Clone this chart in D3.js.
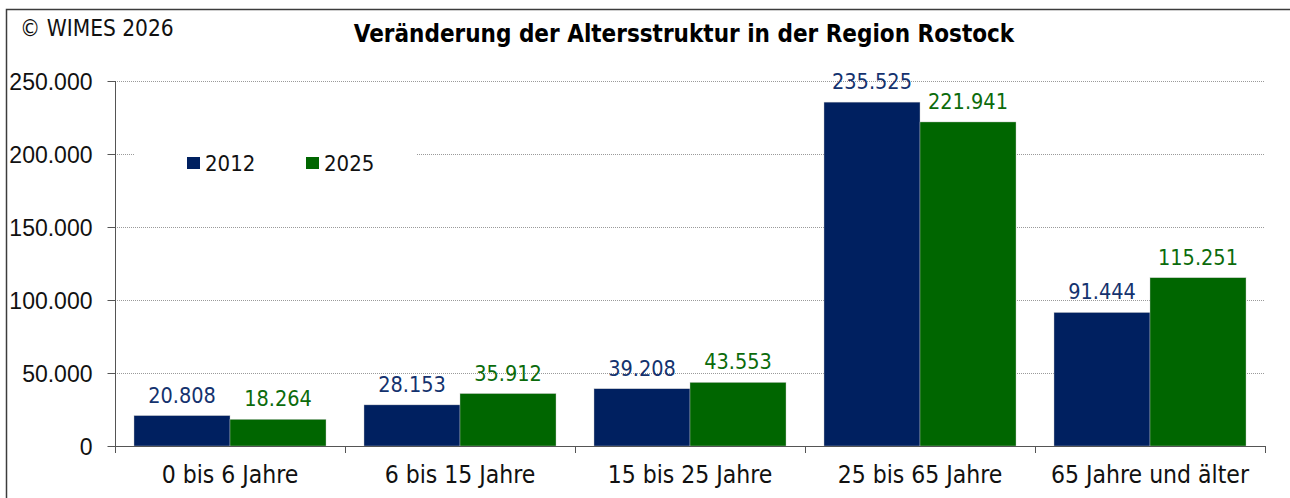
<!DOCTYPE html>
<html>
<head>
<meta charset="utf-8">
<script src="https://cdn.jsdelivr.net/npm/d3@7"></script>
<style>
  body { margin: 0; background: #fff; }
  svg { display: block; font-family: "DejaVu Sans Condensed", "DejaVu Sans", sans-serif; font-stretch: condensed; }
</style>
</head>
<body>
<div id="chart-area"></div>
<script>
const categories = ["0 bis 6 Jahre", "6 bis 15 Jahre", "15 bis 25 Jahre", "25 bis 65 Jahre", "65 Jahre und älter"]
const years = ["2012", "2025"]
const values2012 = [20808, 28153, 39208, 235525, 91444]
const values2025 = [18264, 35912, 43553, 221941, 115251]
const yTicks = [0, 50000, 100000, 150000, 200000, 250000]

class GroupedBarChart {
  constructor(_parentElement) {
    this.parentElement = _parentElement
    this.initVis()
  }

  initVis() {
    const vis = this

    vis.MARGIN = { LEFT: 115, RIGHT: 25, TOP: 81, BOTTOM: 52 }
    vis.WIDTH = 1290 - vis.MARGIN.LEFT - vis.MARGIN.RIGHT
    vis.HEIGHT = 498 - vis.MARGIN.TOP - vis.MARGIN.BOTTOM

    vis.svg = d3.select(vis.parentElement).append("svg")
      .attr("width", 1290)
      .attr("height", 498)

    // outer frame
    vis.svg.append("rect")
      .attr("x", 6.5)
      .attr("y", 9.5)
      .attr("width", 1400)
      .attr("height", 600)
      .attr("fill", "none")
      .attr("stroke", "#3c3c3c")
      .attr("stroke-width", 1.5)

    vis.svg.append("text")
      .attr("x", 20)
      .attr("y", 36)
      .attr("font-size", "22.5px")
      .attr("fill", "#111")
      .text("© WIMES 2026")

    vis.svg.append("text")
      .attr("x", 684)
      .attr("y", 42)
      .attr("text-anchor", "middle")
      .attr("font-size", "24px")
      .attr("font-weight", "bold")
      .attr("fill", "#000")
      .text("Veränderung der Altersstruktur in der Region Rostock")

    vis.g = vis.svg.append("g")
      .attr("transform", `translate(${vis.MARGIN.LEFT}, ${vis.MARGIN.TOP})`)

    vis.data = categories.map((c, i) => ({ category: c, values: [values2012[i], values2025[i]] }))

    vis.color = d3.scaleOrdinal().domain(years).range(["#002060", "#006600"])
    vis.labelColor = d3.scaleOrdinal().domain(years).range(["#14326e", "#0b6b0b"])

    vis.x0 = d3.scaleBand().domain(categories).range([0, vis.WIDTH])
    vis.x1 = d3.scaleBand().domain(years).range([19, vis.x0.bandwidth() - 19])
    vis.y = d3.scaleLinear().domain([0, 250000]).range([vis.HEIGHT, 0])

    const locale = d3.formatLocale({ decimal: ",", thousands: ".", grouping: [3], currency: ["", " €"] })
    vis.fmt = locale.format(",d")

    // gridlines
    vis.g.append("g")
      .selectAll("line")
      .data(yTicks.filter(d => d > 0))
      .enter().append("line")
        .attr("x1", 0)
        .attr("x2", vis.WIDTH)
        .attr("y1", d => Math.round(vis.y(d)) + 0.5)
        .attr("y2", d => Math.round(vis.y(d)) + 0.5)
        .attr("stroke", "#9a9a9a")
        .attr("stroke-dasharray", "1,1")

    vis.addLegend()

    // y axis
    vis.yAxisCall = d3.axisLeft(vis.y)
      .tickValues(yTicks)
      .tickSize(8)
      .tickPadding(15)
      .tickFormat(vis.fmt)

    vis.yAxis = vis.g.append("g")
      .attr("class", "y axis")
      .attr("transform", "translate(0.5, 0)")
      .call(vis.yAxisCall)
    vis.yAxis.select(".domain").attr("stroke", "#555").attr("d", `M0,0V${vis.HEIGHT + 7}`)
    vis.yAxis.selectAll(".tick line").attr("stroke", "#555")
    vis.yAxis.selectAll("text")
      .attr("font-size", "23px")
      .attr("font-family", null)
      .attr("fill", "#111")
      .attr("dy", "0.36em")

    vis.updateVis()
  }

  updateVis() {
    const vis = this

    const groups = vis.g.selectAll(".group")
      .data(vis.data)
      .enter().append("g")
        .attr("class", "group")
        .attr("transform", d => `translate(${vis.x0(d.category)}, 0)`)

    groups.selectAll("rect")
      .data(d => d.values.map((v, i) => ({ year: years[i], value: v })))
      .enter().append("rect")
        .attr("x", d => vis.x1(d.year))
        .attr("y", d => vis.y(d.value))
        .attr("width", vis.x1.bandwidth())
        .attr("height", d => vis.HEIGHT - vis.y(d.value))
        .attr("fill", d => vis.color(d.year))
        .attr("stroke", "#c8c8c8")
        .attr("stroke-width", 0.4)

    groups.selectAll(".valueLabel")
      .data(d => d.values.map((v, i) => ({ year: years[i], value: v })))
      .enter().append("text")
        .attr("class", "valueLabel")
        .attr("x", d => vis.x1(d.year) + vis.x1.bandwidth() / 2)
        .attr("y", d => vis.y(d.value) - 13)
        .attr("text-anchor", "middle")
        .attr("font-size", "21.5px")
        .attr("fill", d => vis.labelColor(d.year))
        .text(d => vis.fmt(d.value))

    // x axis (category boundaries as ticks)
    const xAxis = vis.g.append("g")
      .attr("class", "x axis")
      .attr("transform", `translate(0, ${vis.HEIGHT})`)

    xAxis.append("line")
      .attr("x1", 0)
      .attr("x2", vis.WIDTH)
      .attr("y1", 0.5)
      .attr("y2", 0.5)
      .attr("stroke", "#555")

    xAxis.selectAll(".boundary")
      .data(categories.map(c => vis.x0(c)).concat([vis.WIDTH]))
      .enter().append("line")
        .attr("class", "boundary")
        .attr("x1", d => Math.round(d) + 0.5)
        .attr("x2", d => Math.round(d) + 0.5)
        .attr("y1", 0)
        .attr("y2", 7)
        .attr("stroke", "#555")

    xAxis.selectAll(".catLabel")
      .data(categories)
      .enter().append("text")
        .attr("class", "catLabel")
        .attr("x", d => vis.x0(d) + vis.x0.bandwidth() / 2)
        .attr("y", 37)
        .attr("text-anchor", "middle")
        .attr("font-size", "24.5px")
        .attr("fill", "#111")
        .text(d => d)
  }

  addLegend() {
    const vis = this
    const legend = vis.svg.append("g")

    // white box behind the legend hides the gridline
    legend.append("rect")
      .attr("x", 135)
      .attr("y", 140)
      .attr("width", 281)
      .attr("height", 42)
      .attr("fill", "#fff")

    const legendCol = legend.selectAll(".legendCol")
      .data(years)
      .enter().append("g")
        .attr("class", "legendCol")
        .attr("transform", (d, i) => `translate(${187 + i * 119}, 157)`)

    legendCol.append("rect")
      .attr("width", 13)
      .attr("height", 12)
      .attr("fill", d => vis.color(d))

    legendCol.append("text")
      .attr("x", 18)
      .attr("y", 14)
      .attr("font-size", "22px")
      .attr("fill", "#111")
      .text(d => d)
  }
}

new GroupedBarChart("#chart-area")
</script>
</body>
</html>
